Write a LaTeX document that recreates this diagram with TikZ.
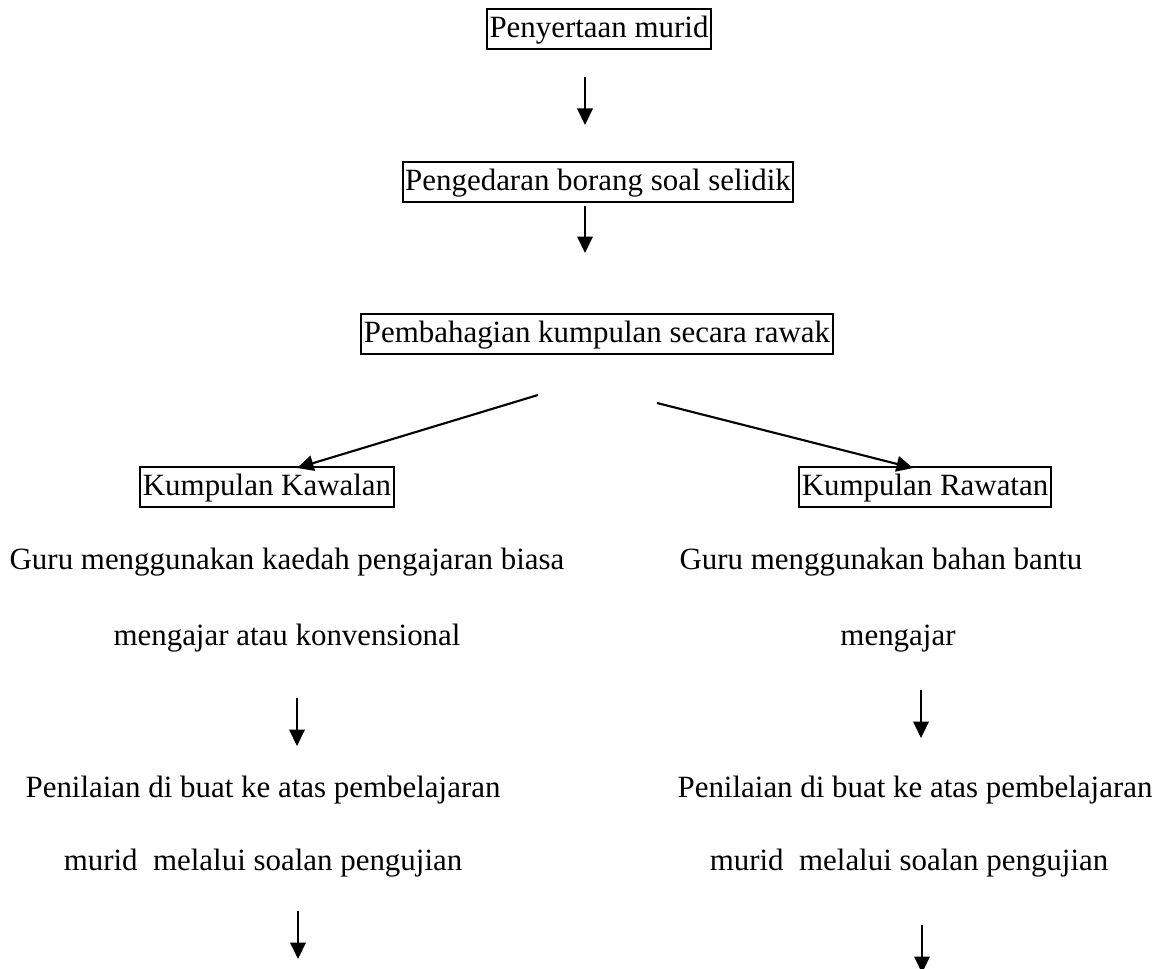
\documentclass[tikz,border=0pt]{standalone}
\usepackage{fontspec}
\setmainfont{Liberation Serif}
\usetikzlibrary{arrows.meta}

\begin{document}
\begin{tikzpicture}[x=0.02cm,y=-0.02cm,
    every node/.style={font=\fontsize{17.6}{21}\selectfont},
    kotak/.style={draw,line width=1.2pt,inner xsep=0.05cm,inner ysep=0pt,
      text height=16.2pt,text depth=6.2pt},
    teks/.style={inner sep=0pt,text height=16.2pt,text depth=6.2pt},
    panah/.style={line width=1.2pt,-{Triangle[length=0.33cm,width=0.31cm]}}]
      \useasboundingbox (0,0) rectangle (1155,969);

      \node[kotak] (peserta) at (599,29) {Penyertaan murid};
      \node[kotak] (borang) at (598,182) {Pengedaran borang soal selidik};
      \node[kotak] (bahagi) at (597,334) {Pembahagian kumpulan secara rawak};

      \node[kotak] (kawal) at (267,487) {Kumpulan Kawalan};
      \node[kotak] (rawat) at (925,487) {Kumpulan Rawatan};

      \node[teks] (kawal1) at (287,561) {Guru menggunakan kaedah pengajaran biasa};
      \node[teks] (kawal2) at (287,637) {mengajar atau konvensional};
      \node[teks] (kawal3) at (263,789) {Penilaian di buat ke atas pembelajaran};
      \node[teks] (kawal4) at (263,862) {murid\ \ melalui soalan pengujian};

      \node[teks] (rawat1) at (881,561) {Guru menggunakan bahan bantu};
      \node[teks] (rawat2) at (898,637) {mengajar};
      \node[teks] (rawat3) at (915,789) {Penilaian di buat ke atas pembelajaran};
      \node[teks] (rawat4) at (909,862) {murid\ \ melalui soalan pengujian};

      % hujung anak panah
      \coordinate (a1) at (585,77);  \coordinate (b1) at (585,125);
      \coordinate (a2) at (585,206); \coordinate (b2) at (585,253);
      \coordinate (a3) at (538,395); \coordinate (b3) at (297,468);
      \coordinate (a4) at (657,403); \coordinate (b4) at (913,468);
      \coordinate (a5) at (297,698); \coordinate (b5) at (297,746);
      \coordinate (a6) at (921,690); \coordinate (b6) at (921,738);
      \coordinate (a7) at (298,911); \coordinate (b7) at (298,959);
      \coordinate (a8) at (922,925); \coordinate (b8) at (922,973);

      \draw[panah] (a1) -- (b1);
      \draw[panah] (a2) -- (b2);
      \draw[panah] (a3) -- (b3);
      \draw[panah] (a4) -- (b4);
      \draw[panah] (a5) -- (b5);
      \draw[panah] (a6) -- (b6);
      \draw[panah] (a7) -- (b7);
      \draw[panah] (a8) -- (b8);
\end{tikzpicture}
\end{document}
